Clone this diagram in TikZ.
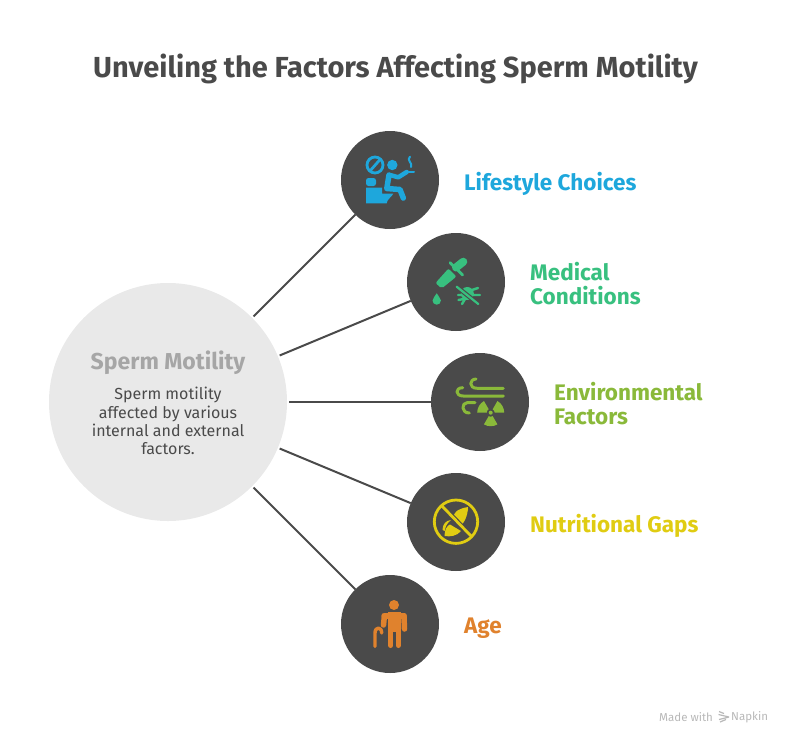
\documentclass[tikz,border=0pt]{standalone}
\usepackage{fontspec}
\setmainfont{Fira Sans}
\usepackage{xcolor}
\usetikzlibrary{arrows.meta,calc}

\definecolor{inkdark}{HTML}{4A4A4A}
\definecolor{hubgray}{HTML}{E9E9E9}
\definecolor{lifeblue}{HTML}{1EA7DC}
\definecolor{medgreen}{HTML}{38C07F}
\definecolor{envgreen}{HTML}{8AB93A}
\definecolor{nutryellow}{HTML}{E0CC12}
\definecolor{ageorange}{HTML}{E0822D}

\begin{document}
\begin{tikzpicture}[x=1pt, y=-1pt,
    hubdisc/.style={circle, fill=hubgray, minimum size=238pt, inner sep=0pt, outer sep=2pt},
    iconbase/.style={circle, fill=inkdark, minimum size=98pt, inner sep=0pt, outer sep=0pt},
    spoke/.style={draw=inkdark, line width=2pt},
    factorlabel/.style={anchor=west, align=left, inner sep=0pt, font=\fontsize{22.5}{24}\selectfont\bfseries},
    iconline/.style={line width=#1, line cap=round, line join=round},
  ]
  \useasboundingbox (0,0) rectangle (792,745);

  % Title
  \node[text=inkdark, font=\fontsize{29}{34}\selectfont\bfseries] (title) at (395.5, 69) {Unveiling the Factors Affecting Sperm Motility};

  % Central disc
  \node[hubdisc] (hub) at (168, 402) {};
  \node[text=black!35, font=\fontsize{23}{24}\selectfont\bfseries] (hubtitle) at (168, 363) {Sperm Motility};
  \node[text=inkdark, align=center, font=\fontsize{16}{18.3}\selectfont] (hubtext) at (168, 421) {Sperm motility\\affected by various\\internal and external\\factors.};

  % Icon discs
  \node[iconbase] (lifestyle) at (390, 180) {};
  \node[iconbase] (medical) at (456, 282) {};
  \node[iconbase] (environment) at (480, 402) {};
  \node[iconbase] (nutrition) at (456, 522) {};
  \node[iconbase] (age) at (390, 624) {};

  % Spokes
  \draw[spoke] (hub) -- (lifestyle);
  \draw[spoke] (hub) -- (medical);
  \draw[spoke] (hub) -- (environment);
  \draw[spoke] (hub) -- (nutrition);
  \draw[spoke] (hub) -- (age);

  % Labels
  \node[factorlabel, text=lifeblue] (lifestylelabel) at (464, 184) {Lifestyle Choices};
  \node[factorlabel, text=medgreen] (medicallabel) at (530, 284) {Medical\\Conditions};
  \node[factorlabel, text=envgreen] (environmentlabel) at (554, 404) {Environmental\\Factors};
  \node[factorlabel, text=nutryellow] (nutritionlabel) at (530, 526) {Nutritional Gaps};
  \node[factorlabel, text=ageorange] (agelabel) at (464, 628.5) {Age};

  % Lifestyle icon
  \draw[lifeblue, line width=2.8pt] (375, 165) circle (8pt);
  \draw[lifeblue, line width=2.8pt] (370, 171) -- (380.5, 159);
  \fill[lifeblue] (392.3, 165) circle (5.2pt);
  \draw[lifeblue, iconline=5.5pt] (389, 175) -- (386.8, 188.5) -- (400, 189.5) -- (403.3, 198);
  \draw[lifeblue, iconline=4.5pt] (390, 175) -- (398.3, 177.3) -- (406.7, 172);
  \draw[lifeblue, iconline=2pt] (408.7, 171.7) -- (414, 171.7);
  \draw[lifeblue, iconline=2pt] (410, 156.7) .. controls (406, 160) and (413, 163) .. (411, 167);
  \fill[lifeblue, rounded corners=2.5pt] (366, 178) rectangle (376, 186);
  \fill[lifeblue] (366, 187.7) -- (382, 187.7) -- (382, 193.5) -- (393.3, 193.5) .. controls (392, 197) and (387, 199) .. (386.7, 203.3) -- (366, 203.3) -- cycle;

  % Medical icon
  \draw[medgreen, iconline=8pt] (456, 267.5) -- (463.3, 261.7);
  \draw[medgreen, iconline=2.8pt] (450, 262.7) -- (462.7, 275);
  \fill[medgreen, rounded corners=2pt] (448.5, 268.5) -- (456.5, 276.5) -- (441.7, 288.5) -- (435.5, 283) -- cycle;
  \fill[medgreen] (436.7, 293.3) .. controls (436, 296) and (432.5, 297.5) .. (432.5, 300.5) arc[start angle=180, end angle=360, radius=4.2pt] .. controls (440.9, 297.5) and (437.4, 296) .. (436.7, 293.3) -- cycle;
  \fill[medgreen] (467.3, 293.5) circle (6.5pt);
  \draw[medgreen, iconline=2.4pt] (472, 290) -- (478, 288) (473, 295) -- (480, 295) (458, 295) -- (463, 295) (458.5, 300) -- (466, 298.5) (462, 304) -- (465, 299);
  \draw[inkdark, line width=4.5pt] (456.7, 286.7) -- (478.3, 304);
  \draw[medgreen, iconline=2.2pt] (456.7, 286.7) -- (478.3, 304);

  % Environment icon
  \draw[envgreen, iconline=3pt] (503.3, 388.3) -- (477.3, 388.3) .. controls (468.3, 388.3) and (469.3, 379) .. (476, 379);
  \draw[envgreen, iconline=3pt] (503.3, 396) -- (463.3, 396) .. controls (455, 396) and (455, 387.7) .. (462.7, 387.7);
  \draw[envgreen, iconline=3pt] (475, 402.7) -- (467, 402.7) .. controls (461.5, 402.7) and (461, 413) .. (469.3, 413);
  \coordinate (radiation) at (490.7, 412.7);
  \foreach \a in {0, 120, 240} {
    \fill[envgreen] ([shift={(\a:13.5pt)}]radiation) arc[start angle=\a, end angle=\a+60, radius=13.5pt] -- ([shift={(\a+60:4pt)}]radiation) arc[start angle=\a+60, end angle=\a, radius=4pt] -- cycle;
  }
  \fill[envgreen] (radiation) circle (2pt);

  % Nutrition icon
  \fill[nutryellow] (453, 520) .. controls (453, 510) and (461.7, 508) .. (468, 507) .. controls (468, 515) and (464, 524) .. (460, 526) -- cycle;
  \fill[nutryellow] (444.5, 536) .. controls (444.5, 530) and (447, 525.5) .. (450, 524.5) -- (461, 531) .. controls (457, 536) and (450, 537) .. (444.5, 536) -- cycle;
  \fill[nutryellow] (442.5, 530) .. controls (442.5, 524) and (446, 520.5) .. (451, 520) .. controls (447, 523) and (445, 527) .. (445, 531) -- cycle;
  \draw[inkdark, line width=5pt] (441.7, 505.7) -- (471.7, 536.7);
  \draw[nutryellow, line width=2.8pt] (441.7, 505.7) -- (471.7, 536.7);
  \draw[nutryellow, line width=2.8pt] (456, 521.7) circle (21.7pt);

  % Age icon
  \fill[ageorange] (394, 605) circle (5pt);
  \draw[ageorange, iconline=6pt] (384.3, 615.5) -- (404, 615.5);
  \draw[ageorange, iconline=5.5pt] (384.3, 617) -- (383.5, 625);
  \draw[ageorange, iconline=5.5pt] (404, 617) -- (404.5, 629);
  \fill[ageorange] (387.5, 612) rectangle (400.5, 632);
  \draw[ageorange, iconline=5pt] (390.8, 630) -- (390.8, 645.5);
  \draw[ageorange, iconline=5pt] (398.2, 630) -- (398.2, 645.5);
  \draw[ageorange, iconline=3.4pt] (375, 646.5) -- (375, 633) .. controls (375, 626.5) and (381.7, 626.5) .. (381.7, 633);

  % Footer
  \node[text=black!28, font=\fontsize{11.5}{14}\selectfont, anchor=west, inner sep=0pt] (madewith) at (659, 717) {Made with};
  \node[text=black!28, font=\fontsize{11.5}{14}\selectfont, anchor=west, inner sep=0pt] (napkin) at (731, 717) {Napkin};
  \draw[black!28, line width=1.2pt] (719, 711.5) -- (724, 713.5) (718.5, 714.5) -- (729, 717) (729, 717) -- (719, 719.5) (720, 722) -- (726, 719.5);
\end{tikzpicture}
\end{document}
